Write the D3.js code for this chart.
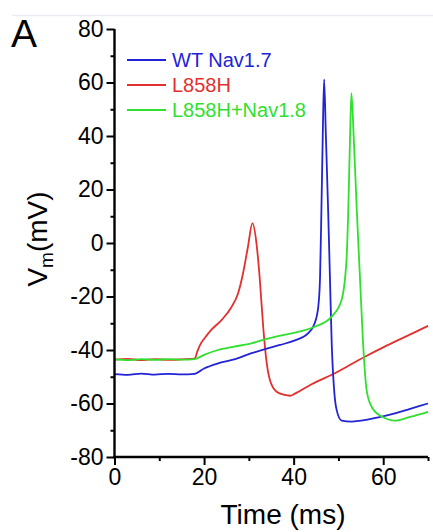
<!DOCTYPE html>
<html>
<head>
<meta charset="utf-8">
<script src="https://cdn.jsdelivr.net/npm/d3@7"></script>
<style>
  html, body { margin: 0; padding: 0; background: #fff; }
  svg { display: block; }
  text { font-family: "Liberation Sans", Arial, sans-serif; }
</style>
</head>
<body>
<svg id="chart" width="433" height="532"></svg>
<script>
// ---- data ----
const seriesNames = ["WT Nav1.7", "L858H", "L858H+Nav1.8"];
const seriesColors = ["#2323d6", "#e3302f", "#2fe02f"];

const wtTime = [0, 3, 6, 9, 12, 15, 17.9, 20, 23.1, 26.5, 30.6, 34, 37, 40.3, 43.2, 44.7, 45.5, 45.9, 46.2, 46.5, 46.8, 47.2, 47.7, 48.1, 48.5, 49.1, 49.6, 50.7, 52.9, 55, 58.9, 62.6, 66, 70];
const wtVm   = [-49, -49.3, -48.8, -49.2, -48.9, -49.1, -48.9, -46.9, -45, -43.6, -41.2, -39.5, -38.1, -36.4, -33.8, -30, -23.8, -12.6, 12.3, 40, 61.2, 40, 12.3, -12.6, -37.5, -56.2, -62.4, -66.4, -66.8, -66.4, -65.2, -63.7, -62, -60];

const l858hTime = [0, 3, 6, 9, 12, 15, 17.9, 18.5, 19.2, 20.2, 21.6, 23.9, 26.1, 27.6, 28.7, 29.8, 30.8, 31.7, 32.4, 33.2, 33.9, 34.7, 36.2, 38, 39.2, 40.3, 44, 49.2, 55.9, 60, 65, 70];
const l858hVm   = [-43.6, -43.3, -43.8, -43.4, -43.7, -43.5, -43.2, -40.5, -37.8, -35.4, -32.5, -28.8, -24, -18.8, -11.3, -1.4, 7.4, -0.1, -12.6, -31.3, -43.7, -51.2, -55.6, -56.8, -57.1, -56.3, -52.8, -48.7, -42.5, -39, -35, -31];

const comboTime = [0, 3, 6, 9, 12, 15, 17.9, 20, 23.1, 26.5, 30.6, 34, 37, 40.3, 44.7, 48.5, 50.7, 51.8, 52.2, 52.6, 52.9, 53.4, 54.1, 54.8, 55.5, 56.3, 57.4, 59.7, 62.6, 66, 70];
const comboVm   = [-43.5, -43.8, -43.4, -43.7, -43.4, -43.6, -43.4, -41.8, -40, -38.8, -37.5, -35.8, -34.6, -33.5, -31.3, -27.5, -21.3, -6.4, 12.3, 40, 56, 40, 12.3, -12.6, -37.5, -55, -61.2, -64.9, -66.4, -65, -63.1];

const xTicks = [0, 20, 40, 60];
const xMinorTicks = [10, 30, 50, 70];
const yTicks = [-80, -60, -40, -20, 0, 20, 40, 60, 80];
const yMinorTicks = [-70, -50, -30, -10, 10, 30, 50, 70];

// ---- layout ----
const svg = d3.select("#chart");
const x = d3.scaleLinear().domain([0, 70]).range([114.5, 428]);
const y = d3.scaleLinear().domain([-80, 80]).range([457, 29]);
const fmt = d => String(d); // plain hyphen minus, as in the original

// top faint rule
svg.append("line").attr("x1", 12).attr("x2", 433).attr("y1", 15.5).attr("y2", 15.5)
  .attr("stroke", "#e9edf1").attr("stroke-width", 1.5);

// panel letter
svg.append("text").attr("x", 11).attr("y", 47).attr("font-size", 39).attr("fill", "#000").text("A");

// traces
const series = [
  { t: wtTime, v: wtVm },
  { t: l858hTime, v: l858hVm },
  { t: comboTime, v: comboVm }
];
const line = d3.line().x(d => x(d[0])).y(d => y(d[1])).curve(d3.curveMonotoneX);
[1, 0, 2].forEach(i => {
  const s = series[i];
  const pts = s.t.map((t, k) => [t, s.v[k]]);
  svg.append("path").attr("d", line(pts)).attr("fill", "none")
    .attr("stroke", seriesColors[i]).attr("stroke-width", 1.8)
    .attr("stroke-linejoin", "round");
});

// axes
const axisStroke = 2.4;
const xAxis = svg.append("g").attr("transform", `translate(0,${y(-80)})`)
  .call(d3.axisBottom(x).tickValues(xTicks).tickSize(8).tickPadding(4).tickFormat(fmt));
const xMinor = svg.append("g").attr("transform", `translate(0,${y(-80)})`)
  .call(d3.axisBottom(x).tickValues(xMinorTicks).tickSize(4).tickFormat(""));
const yAxis = svg.append("g").attr("transform", `translate(${x(0)},0)`)
  .call(d3.axisLeft(y).tickValues(yTicks).tickSize(8).tickPadding(3).tickFormat(fmt));
const yMinor = svg.append("g").attr("transform", `translate(${x(0)},0)`)
  .call(d3.axisLeft(y).tickValues(yMinorTicks).tickSize(4).tickFormat(""));

[xAxis, xMinor, yAxis, yMinor].forEach(g => {
  g.select(".domain").attr("stroke", "#000").attr("stroke-width", axisStroke);
  g.selectAll(".tick line").attr("stroke", "#000").attr("stroke-width", 2);
  g.selectAll("text").attr("font-size", 23).attr("fill", "#000")
    .attr("font-family", "'Liberation Sans', Arial, sans-serif");
});
xMinor.select(".domain").remove();
yMinor.select(".domain").remove();
xAxis.select(".domain").attr("d", `M${x(0) - 1.2},0H${x(70)}`);
yAxis.select(".domain").attr("d", `M0,${y(80)}V${y(-80) + 1.2}`);

// axis titles
svg.append("text").attr("x", 283).attr("y", 524).attr("text-anchor", "middle")
  .attr("font-size", 28).attr("fill", "#000").text("Time (ms)");

const yt = svg.append("text").attr("transform", "translate(47,239) rotate(-90)")
  .attr("text-anchor", "middle").attr("font-size", 28).attr("fill", "#000");
yt.append("tspan").text("V");
yt.append("tspan").attr("font-size", 19).attr("dy", 6).text("m");
yt.append("tspan").attr("dy", -6).text("(mV)");

// legend
const legend = svg.append("g");
seriesNames.forEach((name, i) => {
  const ly = 60 + i * 25;
  legend.append("line").attr("x1", 127).attr("x2", 166).attr("y1", ly).attr("y2", ly)
    .attr("stroke", seriesColors[i]).attr("stroke-width", 1.8);
  legend.append("text").attr("x", 172).attr("y", ly + 7).attr("font-size", 20)
    .attr("fill", seriesColors[i]).text(name);
});
</script>
</body>
</html>
